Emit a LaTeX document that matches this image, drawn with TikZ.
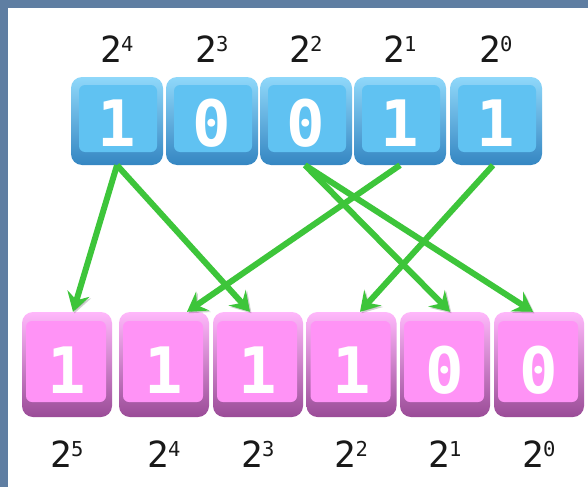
\documentclass[tikz,border=0pt]{standalone}
\usepackage{fontspec}
\setmonofont{DejaVu Sans Mono}
\usetikzlibrary{arrows.meta}

\definecolor{frameblue}{HTML}{5F7EA2}
\definecolor{blueTop}{HTML}{8FD8FA}
\definecolor{blueBot}{HTML}{3586C2}
\definecolor{blueFace}{HTML}{60C2F2}
\definecolor{pinkTop}{HTML}{FFB8FB}
\definecolor{pinkBot}{HTML}{9A4C97}
\definecolor{pinkFace}{HTML}{FF93F6}
\definecolor{arrgreen}{HTML}{3DC53A}

% power-of-two label: big 2 with a raised exponent
\newcommand\powtwo[1]{2\kern-1pt\raisebox{11pt}{\fontsize{20.5}{20.5}\selectfont #1}}

\tikzset{
  tile/.style={minimum width=92pt, rounded corners=11pt, inner sep=0pt,
    text=white, text depth=0pt,
    font=\fontsize{64}{64}\selectfont\ttfamily\bfseries},
  bluetile/.style={tile, minimum height=88pt, text height=50pt,
    top color=blueTop, bottom color=blueBot,
    path picture={\fill[blueFace, rounded corners=6pt]
      ([xshift=8pt,yshift=-8pt]path picture bounding box.north west) rectangle
      ([xshift=-6pt,yshift=13pt]path picture bounding box.south east);}},
  pinktile/.style={tile, minimum width=90pt, minimum height=105pt, text height=57pt,
    top color=pinkTop, bottom color=pinkBot,
    path picture={\fill[pinkFace, rounded corners=6pt]
      ([xshift=4pt,yshift=-9pt]path picture bounding box.north west) rectangle
      ([xshift=-6pt,yshift=15pt]path picture bounding box.south east);}},
  powlabel/.style={inner sep=0pt, text=black!90,
    font=\fontsize{36}{36}\selectfont\ttfamily},
  shift arrow/.style={draw=arrgreen, line width=6pt,
    -{Stealth[length=19pt,width=23pt,inset=7pt]},
    preaction={draw=black, draw opacity=.18, fill opacity=.18,
      transform canvas={xshift=1.5pt,yshift=-1.5pt}}}
}

\begin{document}
\begin{tikzpicture}[x=1pt,y=-1pt]
  % frame and white sheet
  \fill[frameblue] (0,0) rectangle (588,487);
  \fill[white] (8,8) rectangle (588,487);
  \useasboundingbox (0,0) rectangle (588,487);

  % top row: 10011
  \node[bluetile] (t1) at (117,121) {1};
  \node[bluetile] (t2) at (212,121) {0};
  \node[bluetile] (t3) at (306,121) {0};
  \node[bluetile] (t4) at (400,121) {1};
  \node[bluetile] (t5) at (496,121) {1};

  \node[powlabel] (p4) at (117,49) {\powtwo{4}};
  \node[powlabel] (p3) at (212,49) {\powtwo{3}};
  \node[powlabel] (p2) at (306,49) {\powtwo{2}};
  \node[powlabel] (p1) at (400,49) {\powtwo{1}};
  \node[powlabel] (p0) at (496,49) {\powtwo{0}};

  % bottom row: 111100
  \node[pinktile] (b1) at (67,364.5) {1};
  \node[pinktile] (b2) at (164,364.5) {1};
  \node[pinktile] (b3) at (258,364.5) {1};
  \node[pinktile] (b4) at (351.5,364.5) {1};
  \node[pinktile] (b5) at (445,364.5) {0};
  \node[pinktile] (b6) at (539,364.5) {0};

  \node[powlabel] (q5) at (67,454) {\powtwo{5}};
  \node[powlabel] (q4) at (164,454) {\powtwo{4}};
  \node[powlabel] (q3) at (258,454) {\powtwo{3}};
  \node[powlabel] (q2) at (351.5,454) {\powtwo{2}};
  \node[powlabel] (q1) at (445,454) {\powtwo{1}};
  \node[powlabel] (q0) at (539,454) {\powtwo{0}};

  % connectors
  \draw[shift arrow] (t1.south) -- ([xshift=6pt]b1.north);
  \draw[shift arrow] (t1.south) -- ([xshift=-8pt]b3.north);
  \draw[shift arrow] (t4.south) -- ([xshift=23pt]b2.north);
  \draw[shift arrow] ([xshift=-1pt]t3.south) -- ([xshift=5pt]b5.north);
  \draw[shift arrow] ([xshift=-1pt]t3.south) -- ([xshift=-6pt]b6.north);
  \draw[shift arrow] ([xshift=-3pt]t5.south) -- ([xshift=8.5pt]b4.north);
\end{tikzpicture}
\end{document}
